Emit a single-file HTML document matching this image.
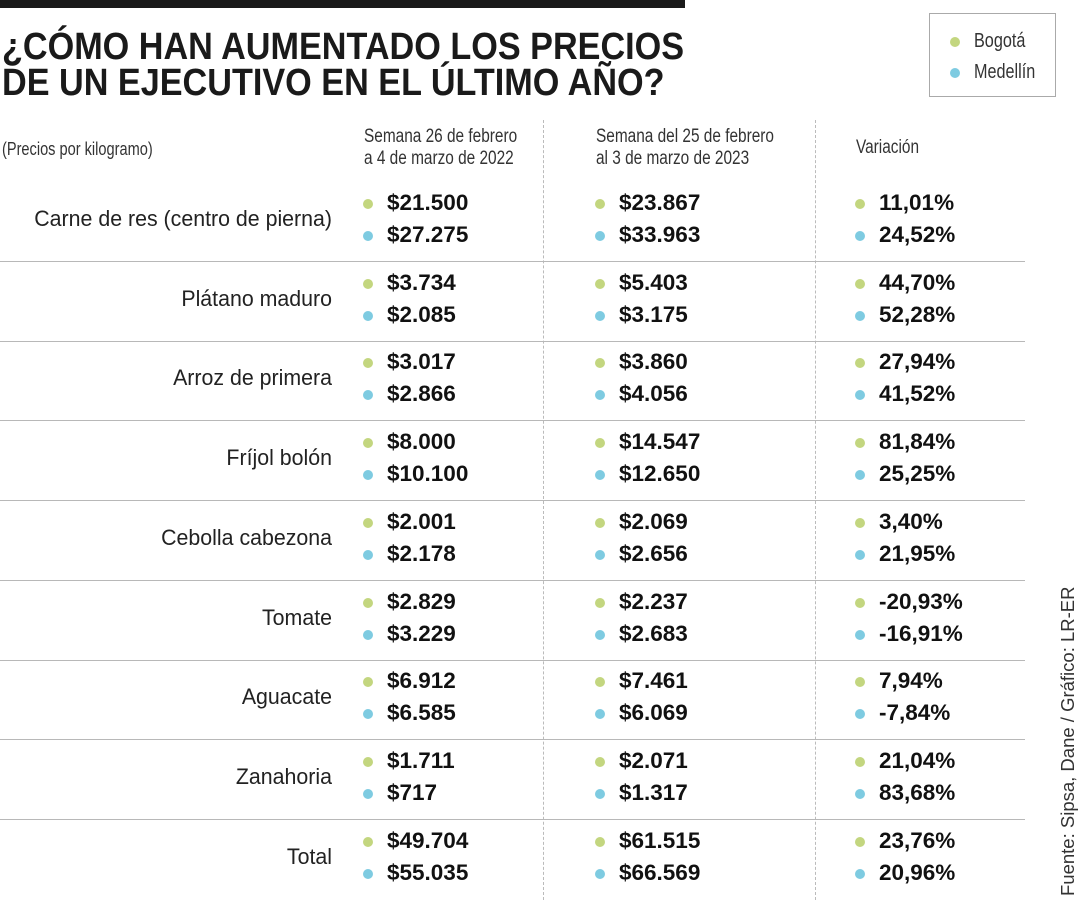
<!DOCTYPE html>
<html><head><meta charset="utf-8">
<style>
body{margin:0;width:1080px;height:900px;background:#fff;position:relative;overflow:hidden;font-family:"Liberation Sans",sans-serif;color:#1a1a1a}
.abs{position:absolute;white-space:nowrap}
.title{left:2px;font-weight:bold;font-size:38px;line-height:36px;transform:scaleX(0.9);transform-origin:0 0}
.hdr{font-size:19px;line-height:22px;color:#333;transform:scaleX(0.81);transform-origin:0 0}
.lbl{font-size:22px;text-align:right;width:332px;left:0;color:#222;transform:scaleX(0.97);transform-origin:100% 0}
.val{font-size:22.5px;font-weight:bold;color:#111}
.dot{width:10px;height:10px;border-radius:50%}
.sep{left:0;width:1025px;height:0;border-top:1.5px solid #b8b8b8}
.vd{width:0;border-left:1.5px dashed #bbb;top:120px;height:780px}
</style></head><body>
<div class="abs" style="left:0;top:0;width:685px;height:8px;background:#1a1a1a"></div>
<div class="abs title" style="top:29px">¿CÓMO HAN AUMENTADO LOS PRECIOS</div>
<div class="abs title" style="top:65px">DE UN EJECUTIVO EN EL ÚLTIMO AÑO?</div>
<div class="abs" style="left:929px;top:13px;width:127px;height:84px;border:1.5px solid #aaa;box-sizing:border-box">
  <div class="abs dot" style="left:20px;top:23px;background:#c3d67f"></div>
  <div class="abs hdr" style="left:44px;top:16px;font-size:20px">Bogotá</div>
  <div class="abs dot" style="left:20px;top:54px;background:#7ecbe1"></div>
  <div class="abs hdr" style="left:44px;top:47px;font-size:20px">Medellín</div>
</div>
<div class="abs hdr" style="left:2px;top:138px;font-size:18px">(Precios por kilogramo)</div>
<div class="abs hdr" style="left:364px;top:126px">Semana 26 de febrero<br>a 4 de marzo de 2022</div>
<div class="abs hdr" style="left:596px;top:126px">Semana del 25 de febrero<br>al 3 de marzo de 2023</div>
<div class="abs hdr" style="left:856px;top:137px">Variación</div>
<div class="abs vd" style="left:543px"></div>
<div class="abs vd" style="left:815px"></div>
<div class="abs" style="left:1057px;top:896px;transform:rotate(-90deg);transform-origin:0 0;font-size:18.5px;color:#333">Fuente: Sipsa, Dane / Gráfico: LR-ER</div>
<div id="rows"></div>
<script>
const products=["Carne de res (centro de pierna)","Plátano maduro","Arroz de primera","Fríjol bolón","Cebolla cabezona","Tomate","Aguacate","Zanahoria","Total"];
const bog2022=["$21.500","$3.734","$3.017","$8.000","$2.001","$2.829","$6.912","$1.711","$49.704"];
const med2022=["$27.275","$2.085","$2.866","$10.100","$2.178","$3.229","$6.585","$717","$55.035"];
const bog2023=["$23.867","$5.403","$3.860","$14.547","$2.069","$2.237","$7.461","$2.071","$61.515"];
const med2023=["$33.963","$3.175","$4.056","$12.650","$2.656","$2.683","$6.069","$1.317","$66.569"];
const bogVar=["11,01%","44,70%","27,94%","81,84%","3,40%","-20,93%","7,94%","21,04%","23,76%"];
const medVar=["24,52%","52,28%","41,52%","25,25%","21,95%","-16,91%","-7,84%","83,68%","20,96%"];
const root=document.getElementById('rows');
const rowH=79.7, y0=204;
function add(cls,style,text,name){
  const d=document.createElement('div');
  d.className='abs '+cls;
  d.setAttribute('style',style);
  if(text!==null)d.textContent=text;
  
  
  root.appendChild(d);
}
const cols=[{x:363,b:bog2022,m:med2022,n:'2022'},{x:595,b:bog2023,m:med2023,n:'2023'},{x:855,b:bogVar,m:medVar,n:'variation'}];
products.forEach((p,i)=>{
  const yb=y0+i*rowH, ym=yb+32;
  add('lbl','top:'+(yb+2)+'px',p,'row-label');
  cols.forEach(c=>{
    add('dot','left:'+c.x+'px;top:'+(yb-5)+'px;background:#c3d67f',null,'bogota-dot');
    add('val','left:'+(c.x+24)+'px;top:'+(yb-14)+'px',c.b[i],'bogota-'+c.n+'-value');
    add('dot','left:'+c.x+'px;top:'+(ym-5)+'px;background:#7ecbe1',null,'medellin-dot');
    add('val','left:'+(c.x+24)+'px;top:'+(ym-14)+'px',c.m[i],'medellin-'+c.n+'-value');
  });
  if(i<products.length-1) add('sep','top:'+(yb+57)+'px',null,'row-separator');
});
</script>
</body></html>
